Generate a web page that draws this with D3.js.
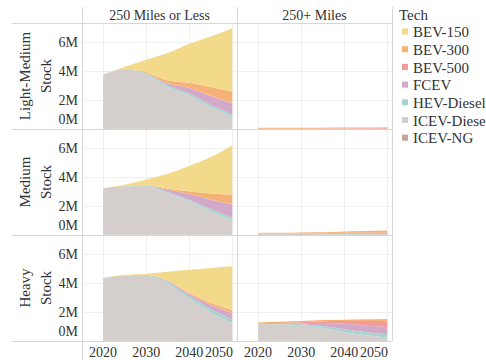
<!DOCTYPE html>
<html>
<head>
<meta charset="utf-8">
<script src="https://cdn.jsdelivr.net/npm/d3@7"></script>
<style>
  body { margin: 0; background: #fff; }
  svg text { font-family: "Liberation Serif", "DejaVu Serif", serif; fill: #333; }
</style>
</head>
<body>
<svg id="chart"></svg>
<script>
// categories / ticks
var years = [2020, 2025, 2030, 2035, 2040, 2045, 2050];
var techs = ["BEV-150", "BEV-300", "BEV-500", "FCEV", "HEV-Diesel", "ICEV-Diesel", "ICEV-NG"];
var rangeNames = ["250 Miles or Less", "250+ Miles"];
var classNames = [["Light-Medium", "Stock"], ["Medium", "Stock"], ["Heavy", "Stock"]];
var yTicks = [0, 2, 4, 6]; // millions
var yTickLabels = ["0M", "2M", "4M", "6M"];
var xTicks = [2020, 2030, 2040, 2050];

// stock in millions, one row per tech (same order as techs), one column per year
var lightMediumShort = [
  [0.05, 0.14, 0.86, 1.9, 2.7, 3.5, 4.4],
  [0, 0.02, 0.08, 0.2, 0.35, 0.6, 0.8],
  [0, 0, 0, 0.01, 0.02, 0.03, 0.03],
  [0, 0, 0.02, 0.12, 0.37, 0.6, 0.75],
  [0, 0.02, 0.07, 0.12, 0.16, 0.17, 0.18],
  [3.71, 4.1, 3.73, 2.89, 2.3, 1.52, 0.83],
  [0.04, 0.04, 0.04, 0.03, 0.01, 0, 0]
];
var lightMediumLong = [
  [0, 0, 0, 0, 0, 0, 0],
  [0.06, 0.06, 0.06, 0.06, 0.06, 0.06, 0.06],
  [0.02, 0.02, 0.02, 0.03, 0.03, 0.04, 0.05],
  [0, 0, 0, 0, 0.01, 0.01, 0.02],
  [0, 0, 0, 0, 0, 0, 0],
  [0, 0, 0, 0, 0, 0, 0],
  [0, 0, 0, 0, 0, 0, 0]
];
var mediumShort = [
  [0.02, 0.08, 0.37, 1.03, 1.74, 2.53, 3.43],
  [0, 0.01, 0.03, 0.08, 0.18, 0.4, 0.65],
  [0, 0, 0, 0.01, 0.01, 0.02, 0.02],
  [0, 0, 0.02, 0.15, 0.4, 0.65, 0.93],
  [0, 0.01, 0.05, 0.08, 0.1, 0.15, 0.18],
  [3.2, 3.36, 3.36, 2.88, 2.34, 1.64, 1.02],
  [0.02, 0.02, 0.02, 0.02, 0.01, 0.01, 0]
];
var mediumLong = [
  [0, 0, 0, 0, 0, 0, 0],
  [0.05, 0.05, 0.06, 0.07, 0.09, 0.11, 0.13],
  [0.02, 0.02, 0.03, 0.03, 0.04, 0.05, 0.06],
  [0, 0, 0.01, 0.02, 0.04, 0.06, 0.08],
  [0, 0, 0.01, 0.01, 0.02, 0.02, 0.02],
  [0.08, 0.08, 0.07, 0.06, 0.05, 0.03, 0.02],
  [0, 0, 0, 0, 0, 0, 0]
];
var heavyShort = [
  [0.01, 0.07, 0.08, 0.6, 1.6, 2.42, 3.04],
  [0, 0, 0.01, 0.03, 0.07, 0.12, 0.18],
  [0, 0, 0, 0.01, 0.02, 0.03, 0.03],
  [0, 0, 0, 0.05, 0.12, 0.28, 0.46],
  [0, 0.01, 0.05, 0.13, 0.2, 0.22, 0.23],
  [4.32, 4.49, 4.51, 3.96, 2.93, 2.0, 1.25],
  [0.03, 0.03, 0.02, 0.02, 0, 0, 0]
];
var heavyLong = [
  [0, 0, 0, 0, 0, 0, 0],
  [0.08, 0.09, 0.08, 0.08, 0.09, 0.12, 0.15],
  [0.03, 0.05, 0.08, 0.13, 0.2, 0.3, 0.4],
  [0, 0.01, 0.06, 0.2, 0.37, 0.46, 0.5],
  [0, 0.02, 0.07, 0.14, 0.2, 0.22, 0.23],
  [1.17, 1.16, 1.08, 0.9, 0.62, 0.4, 0.24],
  [0.01, 0.01, 0.01, 0, 0, 0, 0]
];

var panels = [
  [lightMediumShort, lightMediumLong],
  [mediumShort, mediumLong],
  [heavyShort, heavyLong]
];

var techColors = ["#F3DA8B", "#F6B276", "#F09A9A", "#D2A9C9", "#A7D4CE", "#D4CFCC", "#C3A699"];

var drawChart = function () {
  // layout
  var screen = { width: 486, height: 360 };
  var padLeft = 82, padTop = 23, panelW = 155, panelH = 106;
  var lineColor = "#d6d6d6", gridColor = "#efefef";

  var svg = d3.select("#chart")
    .attr("width", screen.width).attr("height", screen.height)
    .attr("font-family", "'Liberation Serif', 'DejaVu Serif', serif");

  var x = d3.scaleLinear().domain([2015.1, 2051.1]).range([0, panelW]);
  var y = d3.scaleLinear().domain([0, 7.35]).range([panelH, 0]);
  var color = d3.scaleOrdinal().domain(techs).range(techColors);

  var stack = d3.stack().keys(techs.slice().reverse());
  var area = d3.area()
    .x(function (d) { return x(d.data.year); })
    .y0(function (d) { return y(d[0]); })
    .y1(function (d) { return y(d[1]); })
    .curve(d3.curveMonotoneX);

  var toRows = function (values) {
    return years.map(function (yr, i) {
      var row = { year: yr };
      techs.forEach(function (t, k) { row[t] = values[k][i]; });
      return row;
    });
  };

  panels.forEach(function (rowPanels, r) {
    rowPanels.forEach(function (values, c) {
      var g = svg.append("g")
        .attr("transform", "translate(" + (padLeft + c * panelW) + "," + (padTop + r * panelH) + ")");

      // grid
      g.selectAll(".vgrid").data(xTicks).enter().append("line")
        .attr("x1", function (d) { return Math.round(x(d)) + 0.5; })
        .attr("x2", function (d) { return Math.round(x(d)) + 0.5; })
        .attr("y1", 0).attr("y2", panelH)
        .attr("stroke", gridColor);
      g.selectAll(".hgrid").data(yTicks.slice(1)).enter().append("line")
        .attr("x1", 0).attr("x2", panelW)
        .attr("y1", function (d) { return Math.round(y(d)) + 0.5; })
        .attr("y2", function (d) { return Math.round(y(d)) + 0.5; })
        .attr("stroke", gridColor);

      var series = stack(toRows(values));
      g.selectAll(".layer").data(series).enter().append("path")
        .attr("d", area)
        .attr("fill", function (d) { return color(d.key); });
    });

    // row header
    var cy = padTop + r * panelH + panelH / 2;
    classNames[r].forEach(function (txt, i) {
      svg.append("text")
        .attr("transform", "translate(" + (25 + i * 21) + "," + cy + ") rotate(-90)")
        .attr("text-anchor", "middle")
        .attr("dy", "0.35em")
        .style("font-size", "15px")
        .text(txt);
    });

    // y axis labels
    yTicks.forEach(function (t, i) {
      var ty = padTop + r * panelH + y(t);
      if (t === 0) ty = padTop + (r + 1) * panelH - 9.5;
      svg.append("text")
        .attr("x", 78).attr("y", ty)
        .attr("dy", "0.35em")
        .attr("text-anchor", "end")
        .style("font-size", "14px")
        .text(yTickLabels[i]);
    });
  });

  // column headers + x axis labels
  rangeNames.forEach(function (name, c) {
    var px = padLeft + c * panelW;
    svg.append("text")
      .attr("x", px + panelW / 2).attr("y", 15.5)
      .attr("dy", "0.35em")
      .attr("text-anchor", "middle")
      .style("font-size", "14px")
      .text(name);

    xTicks.forEach(function (t) {
      var lbl = svg.append("text")
        .attr("y", 352.5)
        .attr("dy", "0.35em")
        .style("font-size", "14px")
        .text(t);
      var w = lbl.node().getComputedTextLength();
      var cx = px + x(t);
      if (cx + w / 2 > px + panelW - 4) {
        lbl.attr("x", px + panelW - 4).attr("text-anchor", "end");
      } else {
        lbl.attr("x", cx).attr("text-anchor", "middle");
      }
    });
  });

  // frame lines
  var bottom = padTop + 3 * panelH;
  [0, 1, 2, 3].forEach(function (i) {
    svg.append("line")
      .attr("x1", 12).attr("x2", padLeft + 2 * panelW)
      .attr("y1", padTop + i * panelH + 0.5).attr("y2", padTop + i * panelH + 0.5)
      .attr("stroke", lineColor);
  });
  svg.append("line")
    .attr("x1", padLeft + 0.5).attr("x2", padLeft + 0.5)
    .attr("y1", 7).attr("y2", screen.height)
    .attr("stroke", lineColor);
  [1, 2].forEach(function (c) {
    svg.append("line")
      .attr("x1", padLeft + c * panelW + 0.5).attr("x2", padLeft + c * panelW + 0.5)
      .attr("y1", 7).attr("y2", bottom)
      .attr("stroke", lineColor);
  });

  // legend
  var legend = svg.append("g").attr("class", "legend");
  legend.append("text")
    .attr("x", 399).attr("y", 14.8)
    .attr("dy", "0.35em")
    .style("font-size", "15px")
    .text("Tech");

  var items = legend.selectAll(".item").data(techs).enter().append("g")
    .attr("transform", function (d, i) { return "translate(0," + (32 + i * 17.7) + ")"; });
  items.append("rect")
    .attr("x", 402).attr("y", -3.5)
    .attr("width", 6).attr("height", 6)
    .attr("fill", function (d) { return color(d); });
  items.append("text")
    .attr("x", 413).attr("dy", "0.35em")
    .style("font-size", "15px")
    .text(function (d) { return d; });
};

drawChart();
</script>
</body>
</html>
